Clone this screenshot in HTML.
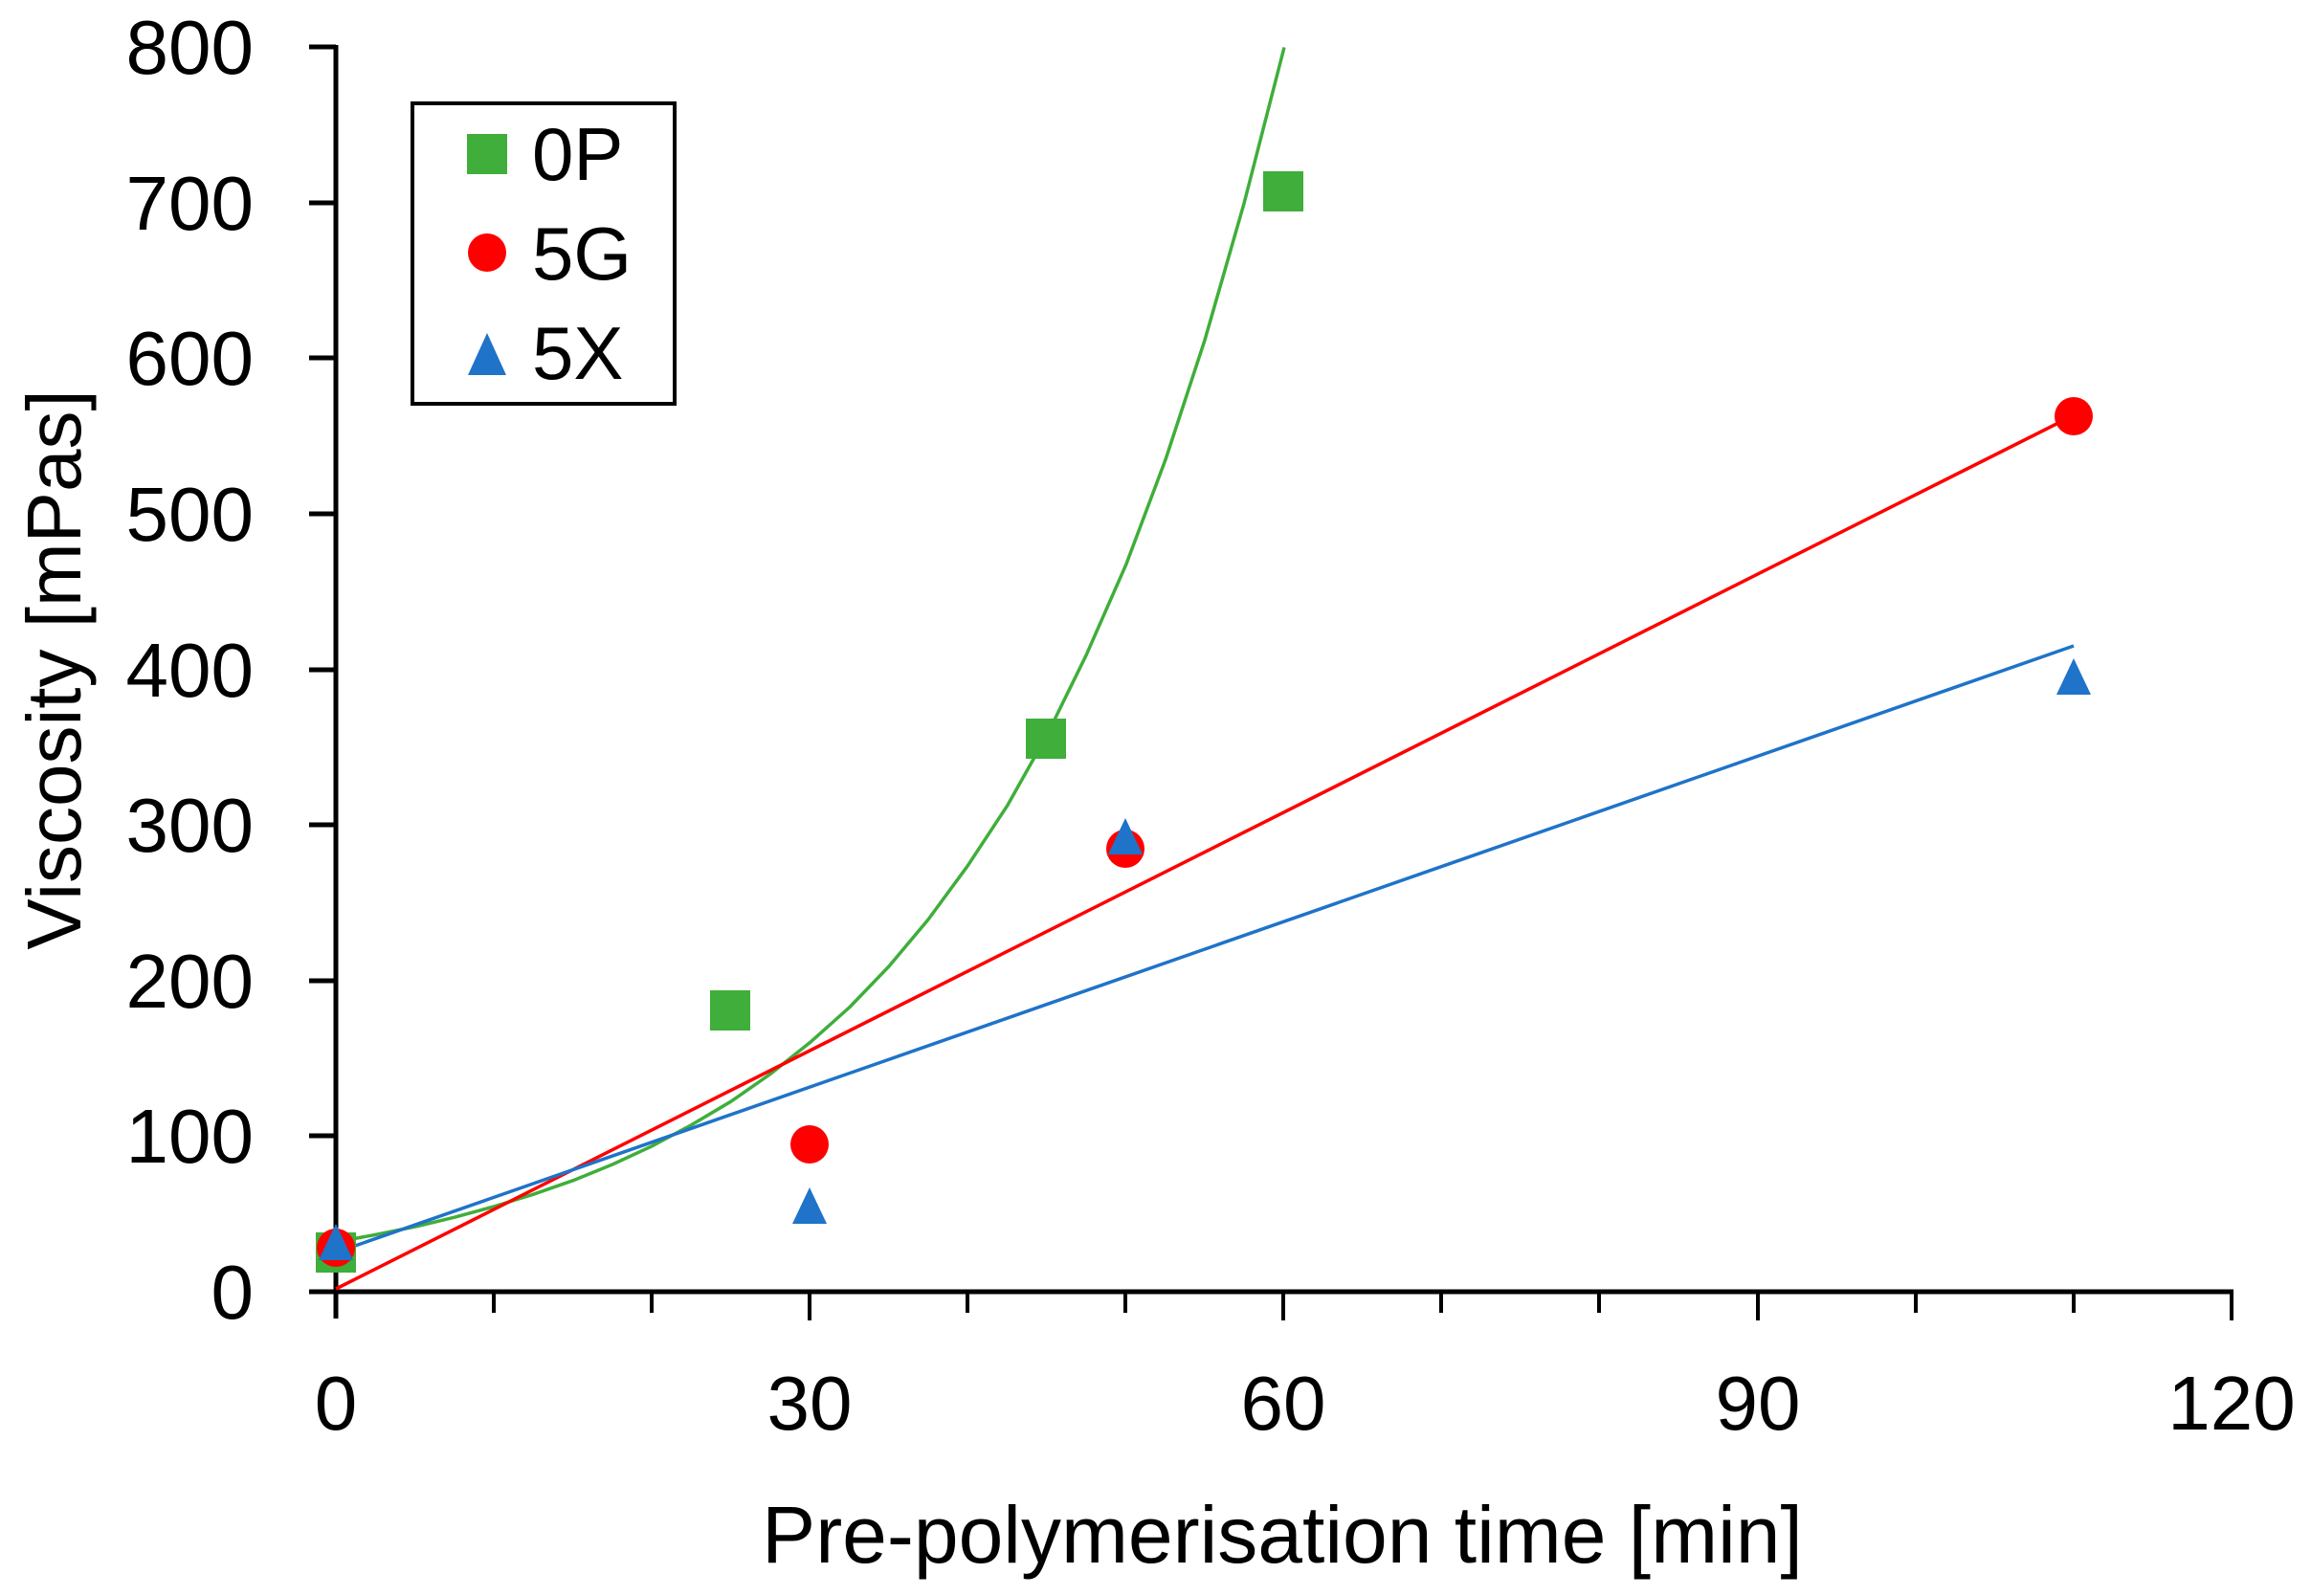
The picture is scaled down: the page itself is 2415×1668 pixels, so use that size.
<!DOCTYPE html>
<html><head><meta charset="utf-8"><style>
html,body{margin:0;padding:0;background:#fff;}
svg{display:block;}
text{font-family:"Liberation Sans",sans-serif;fill:#000;}
</style></head><body>
<svg width="2415" height="1668" viewBox="0 0 2415 1668" xmlns="http://www.w3.org/2000/svg">
<g stroke="#000" stroke-width="5" fill="none">
<line x1="351" y1="47" x2="351" y2="1378"/>
<line x1="323" y1="1350" x2="2334" y2="1350"/>
<line x1="323" y1="49" x2="351" y2="49"/>
<line x1="323" y1="212" x2="351" y2="212"/>
<line x1="323" y1="374" x2="351" y2="374"/>
<line x1="323" y1="537" x2="351" y2="537"/>
<line x1="323" y1="700" x2="351" y2="700"/>
<line x1="323" y1="862" x2="351" y2="862"/>
<line x1="323" y1="1025" x2="351" y2="1025"/>
<line x1="323" y1="1187" x2="351" y2="1187"/>
</g>
<g stroke="#000" stroke-width="4">
<line x1="516" y1="1350" x2="516" y2="1372"/>
<line x1="681" y1="1350" x2="681" y2="1372"/>
<line x1="846" y1="1350" x2="846" y2="1380"/>
<line x1="1011" y1="1350" x2="1011" y2="1372"/>
<line x1="1176" y1="1350" x2="1176" y2="1372"/>
<line x1="1341" y1="1350" x2="1341" y2="1380"/>
<line x1="1506" y1="1350" x2="1506" y2="1372"/>
<line x1="1671" y1="1350" x2="1671" y2="1372"/>
<line x1="1837" y1="1350" x2="1837" y2="1380"/>
<line x1="2002" y1="1350" x2="2002" y2="1372"/>
<line x1="2167" y1="1350" x2="2167" y2="1372"/>
<line x1="2332" y1="1350" x2="2332" y2="1380"/>
</g>
<g font-size="80" text-anchor="end">
<text x="265" y="77">800</text>
<text x="265" y="240">700</text>
<text x="265" y="402">600</text>
<text x="265" y="565">500</text>
<text x="265" y="728">400</text>
<text x="265" y="890">300</text>
<text x="265" y="1053">200</text>
<text x="265" y="1215">100</text>
<text x="265" y="1378">0</text>
</g>
<g font-size="80" text-anchor="middle">
<text x="351" y="1494">0</text>
<text x="846" y="1494">30</text>
<text x="1341" y="1494">60</text>
<text x="1837" y="1494">90</text>
<text x="2332" y="1494">120</text>
</g>
<text x="1340" y="1633" font-size="84" text-anchor="middle">Pre-polymerisation time [min]</text>
<text transform="translate(84,700) rotate(-90)" font-size="80" text-anchor="middle">Viscosity [mPas]</text>
<polyline fill="none" stroke="#3fae3a" stroke-width="3.5" stroke-linejoin="round" points="351,1298 392,1290.5 434,1282 475,1272.2 516,1261 557,1248.3 599,1233.7 640,1217 681,1197.9 722,1176 764,1151.1 805,1122.5 846,1089.9 888,1052.5 929,1009.9 970,961 1011,905.2 1053,841.4 1094,768.4 1135,684.9 1177,589.4 1218,480.3 1259,355.4 1300,212.7 1342,49.5"/>
<line x1="351" y1="1347" x2="2167" y2="434" stroke="#f00" stroke-width="3.5"/>
<line x1="351" y1="1309" x2="2167" y2="675" stroke="#1f73c8" stroke-width="3.5"/>
<g fill="#3fae3a">
<rect x="330" y="1288" width="42" height="42"/>
<rect x="742" y="1035" width="42" height="42"/>
<rect x="1072" y="751" width="42" height="42"/>
<rect x="1320" y="179" width="42" height="42"/>
</g>
<g fill="#f00">
<circle cx="351" cy="1304" r="20"/>
<circle cx="846" cy="1196" r="20"/>
<circle cx="1176" cy="887" r="20"/>
<circle cx="2167" cy="435" r="20"/>
</g>
<g fill="#1f73c8">
<polygon points="351,1279 333,1317 369,1317"/>
<polygon points="846,1241 828,1279 864,1279"/>
<polygon points="1176,855 1158,893 1194,893"/>
<polygon points="2167,688 2149,726 2185,726"/>
</g>
<rect x="431" y="108" width="274" height="314" fill="#fff" stroke="#000" stroke-width="4"/>
<rect x="488" y="140" width="42" height="42" fill="#3fae3a"/>
<text x="556" y="188" font-size="78">0P</text>
<circle cx="509" cy="264" r="20" fill="#f00"/>
<text x="556" y="292" font-size="78">5G</text>
<polygon points="509,348 489,392 529,392" fill="#1f73c8"/>
<text x="556" y="396" font-size="78">5X</text>
</svg>
</body></html>
